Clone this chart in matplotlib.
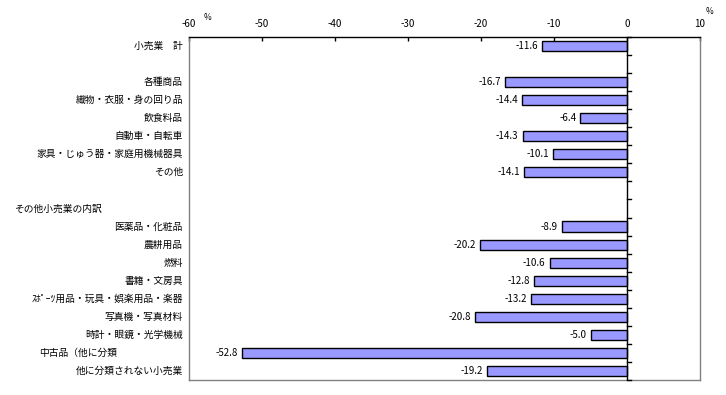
import numpy as np
import matplotlib
matplotlib.use("Agg")
import matplotlib.pyplot as plt
from matplotlib.transforms import offset_copy

plt.rcParams['font.family'] = ['Noto Sans CJK JP', 'DejaVu Sans']

# rows top to bottom, None = no bar
categories = ["小売業　計", "", "各種商品", "織物・衣服・身の回り品", "飲食料品",
              "自動車・自転車", "家具・じゅう器・家庭用機械器具", "その他", "",
              "その他小売業の内訳", "医薬品・化粧品", "農耕用品", "燃料",
              "書籍・文房具", "ｽﾎﾟｰﾂ用品・玩具・娯楽用品・楽器", "写真機・写真材料",
              "時計・眼鏡・光学機械", "中古品（他に分類", "他に分類されない小売業"]
values = [-11.6, None, -16.7, -14.4, -6.4, -14.3, -10.1, -14.1, None,
          None, -8.9, -20.2, -10.6, -12.8, -13.2, -20.8, -5.0, -52.8, -19.2]
xticks = [-60, -50, -40, -30, -20, -10, 0, 10]

n = len(categories)
fig = plt.figure(figsize=(7.26, 3.95), dpi=100)
ax = fig.add_axes([0.2603, 0.038, 0.7039, 0.8684])

ypos = np.arange(n)
for y, v in zip(ypos, values):
    if v is None:
        continue
    ax.barh(y, v, height=0.56, color="#9999FF", edgecolor="black", linewidth=1.0, zorder=2)
    lab_tr = offset_copy(ax.transData, fig=fig, x=-4, y=0, units='dots')
    ax.text(v, y, "%.1f" % v, transform=lab_tr, ha='right', va='center', fontsize=7)

ax.set_xlim(-60, 10)
ax.set_ylim(n - 0.5, -0.5)

# category labels
ytr = ax.get_yaxis_transform()
for y, c in zip(ypos, categories):
    if c == "その他小売業の内訳":
        ax.text(-0.342, y, c, transform=ytr, ha='left', va='center', fontsize=7)
    elif c.startswith("中古品"):
        ax.text(-0.141, y, c, transform=ytr, ha='right', va='center', fontsize=7)
    elif c:
        ax.text(-0.012, y, c, transform=ytr, ha='right', va='center', fontsize=7)
ax.set_yticks([])

# top value axis
ax.xaxis.tick_top()
ax.set_xticks(xticks)
ax.set_xticklabels([str(t) for t in xticks], fontsize=7)
ax.tick_params(axis='x', direction='in', length=3, width=1, pad=6, color='black')

for side in ['left', 'right', 'bottom']:
    ax.spines[side].set_color('#808080')
    ax.spines[side].set_linewidth(1.0)
ax.spines['top'].set_color('black')
ax.spines['top'].set_linewidth(1.0)

# category axis at zero with ticks between rows
ax.axvline(0, color='black', linewidth=1.0, zorder=3)
tick_tr = ax.transData
for b in np.arange(-0.5, n, 1.0):
    ax.plot([0, 0.5], [b, b], color='black', linewidth=1.0, zorder=3, clip_on=False)

fig.text(208 / 726, 1 - 18 / 395, "%", fontsize=6, ha='center', va='center')
fig.text(709 / 726, 1 - 12 / 395, "%", fontsize=6, ha='center', va='center')

fig.savefig("out.png", dpi=100)
